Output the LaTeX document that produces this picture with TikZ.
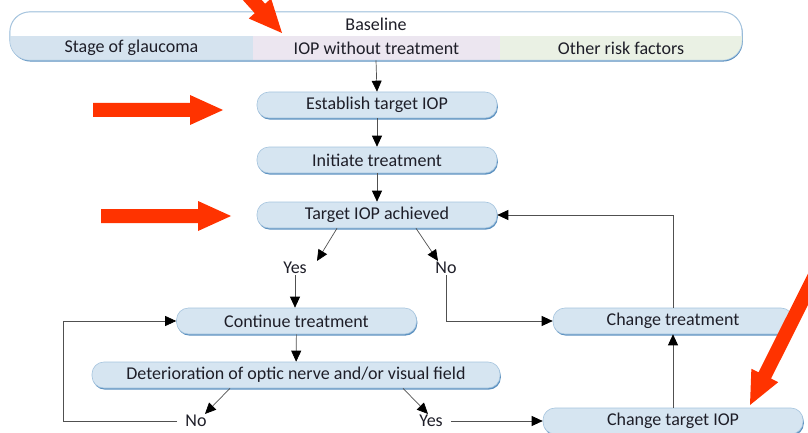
\documentclass[tikz,border=0pt]{standalone}
\usepackage{fontspec}
\setmainfont{Carlito}
\usetikzlibrary{calc,arrows.meta,shadows}

\definecolor{boxfill}{RGB}{214,229,241}
\definecolor{boxline}{RGB}{165,196,222}
\definecolor{boxshade}{RGB}{92,145,192}
\definecolor{stagefill}{RGB}{213,227,239}
\definecolor{iopfill}{RGB}{236,230,240}
\definecolor{riskfill}{RGB}{234,241,228}
\definecolor{flowgray}{RGB}{80,80,80}
\definecolor{pointerred}{RGB}{255,51,0}
\definecolor{textdark}{RGB}{30,30,40}

\tikzset{
	stepbox/.style={rounded corners=12pt, fill=boxfill, draw=boxline, line width=0.6pt,
		minimum height=26pt, minimum width=240pt, inner sep=0pt, text=textdark,
		font=\fontsize{18}{20}\selectfont,
		drop shadow={shadow xshift=0.8pt, shadow yshift=-1.6pt, fill=boxshade, opacity=1}},
	section/.style={minimum height=24pt, inner sep=0pt, text=textdark, font=\fontsize{18}{20}\selectfont},
	answer/.style={inner sep=1pt, text=textdark, font=\fontsize{18}{20}\selectfont},
	flow/.style={draw=flowgray, line width=0.7pt, -{Triangle[length=11pt,width=10pt,color=black]}},
}

\newcommand{\pointer}[3]{\fill[pointerred, shift={(#1)}, rotate=#2] (0,0) -- (-33,15) -- (-33,7) -- (-#3,7) -- (-#3,-7) -- (-33,-7) -- (-33,-15) -- cycle;}

\begin{document}
\begin{tikzpicture}[x=1pt, y=-1pt]
		%%%%% START %%%%%
		\useasboundingbox (0,0) rectangle (808,433);
		\clip (0,0) rectangle (808,433);
		
		% baseline
		\node[stepbox, fill=white, minimum width=732pt, minimum height=48pt, rounded corners=20pt] (baseline) at (376,36) {};
		\begin{scope}
			\clip[rounded corners=20pt] (baseline.north west) rectangle (baseline.south east);
			\node[section, fill=stagefill, minimum width=243pt] (stage) at (131.5,48) {Stage of glaucoma};
			\node[section, fill=iopfill, minimum width=247pt] (untreated) at (376.5,48) {IOP without treatment};
			\node[section, fill=riskfill, minimum width=242pt] (risk) at (621,48) {Other risk factors};
		\end{scope}
		\draw[boxline, line width=0.6pt, rounded corners=20pt] (baseline.north west) rectangle (baseline.south east);
		\node[answer] (basetitle) at (376,24) {Baseline};
		
		% main column
		\node[stepbox] (establish) at (377,105) {Establish target IOP};
		\node[stepbox] (initiate) at (377,160) {Initiate treatment};
		\node[stepbox] (target) at (377,215) {Target IOP achieved};
		\node[answer] (yes1) at (295,268) {Yes};
		\node[answer] (no1) at (446,268) {No};
		\node[stepbox] (continue) at (296.5,321) {Continue treatment};
		\node[stepbox, minimum width=408pt] (deterioration) at (296,375) {Deterioration of optic nerve and/or visual field};
		\node[answer] (no2) at (196,421) {No};
		\node[answer] (yes2) at (431,421) {Yes};
		\node[stepbox] (changetreat) at (673,321) {Change treatment};
		\node[stepbox, minimum width=260pt] (changetarget) at (673,421) {Change target IOP};
		
		\draw[flow] (baseline.south) -- (establish.north);
		\draw[flow] (establish) -- (initiate);
		\draw[flow] (initiate) -- (target);
		\draw[flow] ($(target.south)+(-40,0)$) -- ($(yes1.north)+(22,0)$);
		\draw[flow] ($(target.south)+(39,0)$) -- ($(no1.north)+(-8,0)$);
		\draw[flow] (yes1.south) -- (yes1.south |- continue.north);
		\draw[flow] (no1.south) |- (changetreat.west);
		\draw[flow] (continue) -- (deterioration);
		\draw[flow] ($(deterioration.south)+(-66,0)$) -- ($(no2.north)+(9,0)$);
		\draw[flow] ($(deterioration.south)+(107,0)$) -- ($(yes2.north)+(-3,0)$);
		\draw[flow, shorten <=7pt] (no2.west) -- ++(-121,0) |- (continue.west);
		\draw[flow, shorten <=7pt] (yes2.east) -- (changetarget.west);
		\draw[flow] (changetarget.north) -- (changetreat.south);
		\draw[flow] (changetreat.north) |- (target.east);
		
		% red pointers
		\pointer{223,110}{0}{130}
		\pointer{231,216}{0}{130}
		\pointer{282,33}{-48}{90}
		\pointer{750,405}{-116.6}{150}
		%%%%% END %%%%%
\end{tikzpicture}
\end{document}
